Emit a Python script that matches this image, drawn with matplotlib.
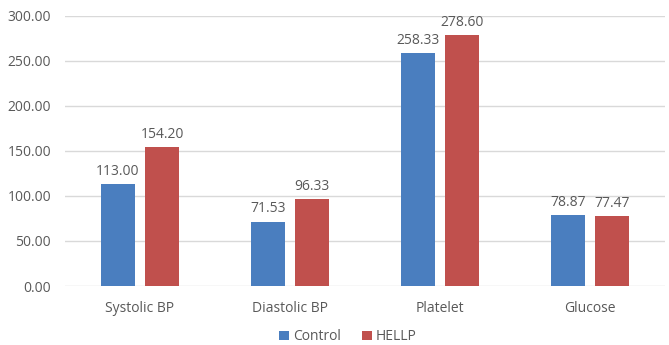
import matplotlib
matplotlib.use("Agg")
import matplotlib.pyplot as plt
import numpy as np

categories = ["Systolic BP", "Diastolic BP", "Platelet", "Glucose"]
control = [113.00, 71.53, 258.33, 78.87]
hellp = [154.20, 96.33, 278.60, 77.47]
series_names = ["Control", "HELLP"]
colors = ["#4a7ebf", "#c0504d"]
text_color = "#595959"

plt.rcParams["font.family"] = ["Open Sans", "DejaVu Sans"]

fig = plt.figure(figsize=(6.69, 3.45), dpi=100)
ax = fig.add_axes([0.097, 0.171, 0.897, 0.783])

x = np.arange(len(categories))
w = 0.227
off = w / 2 + 0.034
b1 = ax.bar(x - off, control, w, color=colors[0], label=series_names[0], zorder=3)
b2 = ax.bar(x + off, hellp, w, color=colors[1], label=series_names[1], zorder=3)

for bars, vals in ((b1, control), (b2, hellp)):
    for rect, v in zip(bars, vals):
        ax.text(rect.get_x() + rect.get_width() / 2, v + 6, f"{v:.2f}",
                ha="center", va="bottom", fontsize=10, color=text_color)

ax.set_xlim(-0.5, len(categories) - 0.5)
ax.set_ylim(0, 300)
ax.set_yticks(np.arange(0, 301, 50))
ax.set_yticklabels([f"{t:.2f}" for t in np.arange(0, 301, 50)])
ax.set_xticks(x)
ax.set_xticklabels(categories)
ax.tick_params(axis="both", length=0, labelsize=10, labelcolor=text_color)
ax.tick_params(axis="y", pad=10)
ax.tick_params(axis="x", pad=11)
ax.grid(axis="y", color="#d9d9d9", linewidth=1, zorder=0)
for s in ax.spines.values():
    s.set_visible(False)

fig.legend(handles=[b1, b2], loc="lower center", bbox_to_anchor=(0.52, -0.03),
           ncol=2, frameon=False, fontsize=10, labelcolor=text_color,
           handlelength=0.7, handleheight=0.7, handletextpad=0.3, columnspacing=1.5,
           borderpad=0.3)

fig.savefig("out.png", dpi=100)
